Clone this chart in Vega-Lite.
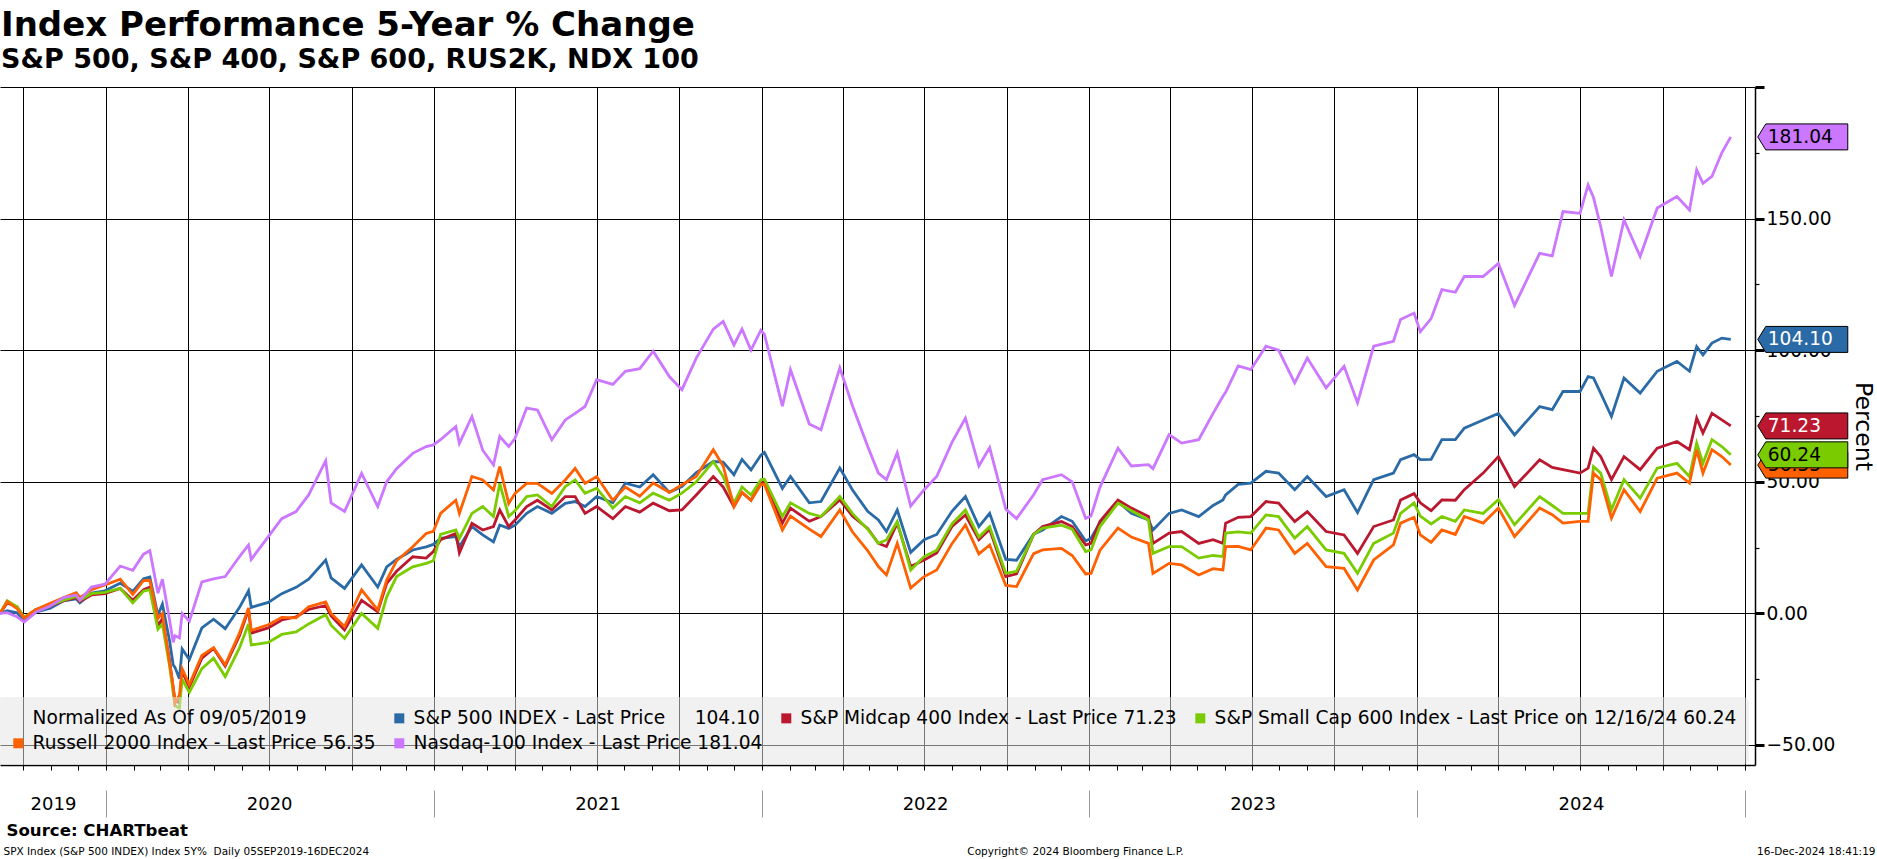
{
  "$schema": "https://vega.github.io/schema/vega-lite/v6.json",
  "width": 1755,
  "height": 678,
  "autosize": {"type": "none"},
  "padding": {"left": 0, "top": 87, "right": 122, "bottom": 94},
  "background": "white",
  "title": {
    "text": "Index Performance 5-Year % Change",
    "subtitle": "S&P 500, S&P 400, S&P 600, RUS2K, NDX 100",
    "anchor": "start",
    "frame": "group",
    "font": "DejaVu Sans",
    "fontSize": 34,
    "fontWeight": "bold",
    "color": "black",
    "subtitleFont": "DejaVu Sans",
    "subtitleFontSize": 27,
    "subtitleFontWeight": "bold",
    "subtitleColor": "black",
    "subtitlePadding": 4,
    "offset": 5,
    "dx": 1
  },
  "data": {
    "values": [
      {"date": "2019-09-05", "spx": 0, "mid": 0, "sml": 0, "rty": 0, "ndx": 0},
      {"date": "2019-09-13", "spx": 1.0, "mid": 4.0, "sml": 4.8, "rty": 4.5, "ndx": 0.3},
      {"date": "2019-09-24", "spx": 0.2, "mid": 2.5, "sml": 2.5, "rty": 1.8, "ndx": -1.3},
      {"date": "2019-10-02", "spx": -2.8, "mid": -1.5, "sml": -1.5, "rty": -1.8, "ndx": -3.3},
      {"date": "2019-10-15", "spx": 0.5, "mid": 1.5, "sml": 1.5, "rty": 1.5, "ndx": 0.5},
      {"date": "2019-10-31", "spx": 2.0, "mid": 2.8, "sml": 3.0, "rty": 3.8, "ndx": 2.8},
      {"date": "2019-11-15", "spx": 4.8, "mid": 4.8, "sml": 5.0, "rty": 6.0, "ndx": 6.0},
      {"date": "2019-11-29", "spx": 5.5, "mid": 6.0, "sml": 6.5, "rty": 7.9, "ndx": 7.0},
      {"date": "2019-12-03", "spx": 4.0, "mid": 4.5, "sml": 5.0, "rty": 6.0, "ndx": 5.0},
      {"date": "2019-12-16", "spx": 7.7, "mid": 7.0, "sml": 7.5, "rty": 9.0, "ndx": 10.0},
      {"date": "2019-12-31", "spx": 8.6, "mid": 7.5, "sml": 8.0, "rty": 10.8, "ndx": 11.1},
      {"date": "2020-01-17", "spx": 11.5, "mid": 9.5, "sml": 9.5, "rty": 13.0, "ndx": 18.0},
      {"date": "2020-01-31", "spx": 8.4, "mid": 5.0, "sml": 4.0, "rty": 7.2, "ndx": 16.4},
      {"date": "2020-02-12", "spx": 13.2, "mid": 9.0, "sml": 8.5, "rty": 12.5, "ndx": 22.5},
      {"date": "2020-02-19", "spx": 13.8, "mid": 10.0, "sml": 9.0, "rty": 12.5, "ndx": 23.8},
      {"date": "2020-02-28", "spx": -0.7, "mid": -4.7, "sml": -6.0, "rty": -1.9, "ndx": 7.7},
      {"date": "2020-03-04", "spx": 3.5, "mid": -2.0, "sml": -4.0, "rty": 0.0, "ndx": 13.0},
      {"date": "2020-03-12", "spx": -10.5, "mid": -18.0, "sml": -20.0, "rty": -19.0, "ndx": -2.5},
      {"date": "2020-03-16", "spx": -19.5, "mid": -28.0, "sml": -30.0, "rty": -28.0, "ndx": -11.0},
      {"date": "2020-03-18", "spx": -20.5, "mid": -33.0, "sml": -35.0, "rty": -34.2, "ndx": -8.5},
      {"date": "2020-03-23", "spx": -24.8, "mid": -34.0, "sml": -36.0, "rty": -31.0, "ndx": -9.3},
      {"date": "2020-03-26", "spx": -13.5, "mid": -22.0, "sml": -25.0, "rty": -21.0, "ndx": 0.0},
      {"date": "2020-04-03", "spx": -17.5, "mid": -28.0, "sml": -30.0, "rty": -27.0, "ndx": -3.0},
      {"date": "2020-04-17", "spx": -5.5, "mid": -17.0, "sml": -21.0, "rty": -16.0, "ndx": 12.0},
      {"date": "2020-04-30", "spx": -2.2, "mid": -13.3, "sml": -17.0, "rty": -13.0, "ndx": 13.1},
      {"date": "2020-05-13", "spx": -5.8, "mid": -20.0, "sml": -24.0, "rty": -19.5, "ndx": 14.0},
      {"date": "2020-05-29", "spx": 2.3, "mid": -8.4, "sml": -13.0, "rty": -7.4, "ndx": 21.6},
      {"date": "2020-06-08", "spx": 8.6, "mid": 1.5, "sml": -4.0, "rty": 2.1, "ndx": 26.0},
      {"date": "2020-06-11", "spx": 2.3, "mid": -7.5, "sml": -12.0, "rty": -6.5, "ndx": 20.5},
      {"date": "2020-06-30", "spx": 4.2, "mid": -5.5, "sml": -11.0, "rty": -4.3, "ndx": 29.2},
      {"date": "2020-07-15", "spx": 7.5, "mid": -2.5, "sml": -8.0, "rty": -1.5, "ndx": 36.0},
      {"date": "2020-07-31", "spx": 9.9, "mid": -1.3, "sml": -7.0, "rty": -1.7, "ndx": 38.7},
      {"date": "2020-08-14", "spx": 13.0, "mid": 1.5, "sml": -4.0, "rty": 2.5, "ndx": 45.0},
      {"date": "2020-09-02", "spx": 20.3, "mid": 3.0, "sml": -0.5, "rty": 4.4, "ndx": 58.0},
      {"date": "2020-09-08", "spx": 13.5, "mid": -1.0, "sml": -4.5, "rty": 0.0, "ndx": 42.0},
      {"date": "2020-09-23", "spx": 9.5, "mid": -6.3, "sml": -9.5, "rty": -5.0, "ndx": 38.7},
      {"date": "2020-10-12", "spx": 18.4, "mid": 5.0, "sml": 0.0, "rty": 8.9, "ndx": 53.2},
      {"date": "2020-10-30", "spx": 10.0, "mid": 0.6, "sml": -5.7, "rty": 1.3, "ndx": 40.6},
      {"date": "2020-11-09", "spx": 17.7, "mid": 11.4, "sml": 6.3, "rty": 12.7, "ndx": 50.0},
      {"date": "2020-11-20", "spx": 20.5, "mid": 16.0, "sml": 14.0, "rty": 20.0, "ndx": 55.0},
      {"date": "2020-12-08", "spx": 24.1, "mid": 21.5, "sml": 17.7, "rty": 25.3, "ndx": 60.8},
      {"date": "2020-12-23", "spx": 25.3, "mid": 21.0, "sml": 19.0, "rty": 30.4, "ndx": 63.4},
      {"date": "2020-12-31", "spx": 26.2, "mid": 23.5, "sml": 20.0, "rty": 31.2, "ndx": 64.0},
      {"date": "2021-01-08", "spx": 28.5, "mid": 28.0, "sml": 30.0, "rty": 38.0, "ndx": 66.0},
      {"date": "2021-01-25", "spx": 29.2, "mid": 30.4, "sml": 31.7, "rty": 43.0, "ndx": 71.0},
      {"date": "2021-01-29", "spx": 25.3, "mid": 23.0, "sml": 28.5, "rty": 38.0, "ndx": 64.6},
      {"date": "2021-02-12", "spx": 33.0, "mid": 34.2, "sml": 38.0, "rty": 52.0, "ndx": 74.8},
      {"date": "2021-02-24", "spx": 29.8, "mid": 31.7, "sml": 40.6, "rty": 50.7, "ndx": 62.0},
      {"date": "2021-03-08", "spx": 27.2, "mid": 33.0, "sml": 36.8, "rty": 46.9, "ndx": 56.4},
      {"date": "2021-03-15", "spx": 33.6, "mid": 39.3, "sml": 49.4, "rty": 55.8, "ndx": 67.2},
      {"date": "2021-03-25", "spx": 32.3, "mid": 33.0, "sml": 36.8, "rty": 41.8, "ndx": 63.4},
      {"date": "2021-04-01", "spx": 33.5, "mid": 35.5, "sml": 39.0, "rty": 45.6, "ndx": 66.5},
      {"date": "2021-04-14", "spx": 38.0, "mid": 40.6, "sml": 44.4, "rty": 49.4, "ndx": 78.0},
      {"date": "2021-04-26", "spx": 40.6, "mid": 43.0, "sml": 45.0, "rty": 49.4, "ndx": 77.3},
      {"date": "2021-05-12", "spx": 38.0, "mid": 39.3, "sml": 40.6, "rty": 45.6, "ndx": 66.0},
      {"date": "2021-05-27", "spx": 41.8, "mid": 44.4, "sml": 48.2, "rty": 50.7, "ndx": 73.5},
      {"date": "2021-06-07", "spx": 42.5, "mid": 44.4, "sml": 50.7, "rty": 55.1, "ndx": 76.0},
      {"date": "2021-06-18", "spx": 40.6, "mid": 38.0, "sml": 45.6, "rty": 49.4, "ndx": 78.6},
      {"date": "2021-07-01", "spx": 44.4, "mid": 40.6, "sml": 47.6, "rty": 52.0, "ndx": 88.8},
      {"date": "2021-07-19", "spx": 42.0, "mid": 36.0, "sml": 40.0, "rty": 43.0, "ndx": 87.0},
      {"date": "2021-08-02", "spx": 49.5, "mid": 40.6, "sml": 44.4, "rty": 48.0, "ndx": 92.0},
      {"date": "2021-08-18", "spx": 48.0, "mid": 38.5, "sml": 42.0, "rty": 44.5, "ndx": 93.0},
      {"date": "2021-09-02", "spx": 52.7, "mid": 41.9, "sml": 45.7, "rty": 49.5, "ndx": 99.6},
      {"date": "2021-09-20", "spx": 46.0, "mid": 39.0, "sml": 43.0, "rty": 46.0, "ndx": 90.0},
      {"date": "2021-10-04", "spx": 48.2, "mid": 39.3, "sml": 45.7, "rty": 48.9, "ndx": 85.0},
      {"date": "2021-10-20", "spx": 53.5, "mid": 45.0, "sml": 50.0, "rty": 52.0, "ndx": 97.0},
      {"date": "2021-11-08", "spx": 57.7, "mid": 52.0, "sml": 57.7, "rty": 62.2, "ndx": 108.0},
      {"date": "2021-11-19", "spx": 57.5, "mid": 48.0, "sml": 52.0, "rty": 56.0, "ndx": 110.9},
      {"date": "2021-12-01", "spx": 52.7, "mid": 40.6, "sml": 41.9, "rty": 40.6, "ndx": 102.0},
      {"date": "2021-12-10", "spx": 58.5, "mid": 46.0, "sml": 48.0, "rty": 46.0, "ndx": 108.0},
      {"date": "2021-12-20", "spx": 54.5, "mid": 43.0, "sml": 45.0, "rty": 43.0, "ndx": 100.0},
      {"date": "2021-12-31", "spx": 60.1, "mid": 49.5, "sml": 50.8, "rty": 48.9, "ndx": 107.6},
      {"date": "2022-01-04", "spx": 61.2, "mid": 50.0, "sml": 51.0, "rty": 49.0, "ndx": 106.0},
      {"date": "2022-01-24", "spx": 47.5, "mid": 34.3, "sml": 36.8, "rty": 31.7, "ndx": 78.7},
      {"date": "2022-02-02", "spx": 52.0, "mid": 40.0, "sml": 42.0, "rty": 37.0, "ndx": 92.6},
      {"date": "2022-02-23", "spx": 42.0, "mid": 35.0, "sml": 38.0, "rty": 32.0, "ndx": 72.0},
      {"date": "2022-03-08", "spx": 42.5, "mid": 36.8, "sml": 36.8, "rty": 29.2, "ndx": 69.8},
      {"date": "2022-03-29", "spx": 55.2, "mid": 43.1, "sml": 44.4, "rty": 39.3, "ndx": 93.3},
      {"date": "2022-04-12", "spx": 47.0, "mid": 37.0, "sml": 38.0, "rty": 31.0, "ndx": 79.0},
      {"date": "2022-04-29", "spx": 38.8, "mid": 32.3, "sml": 32.0, "rty": 23.9, "ndx": 63.5},
      {"date": "2022-05-11", "spx": 35.5, "mid": 26.6, "sml": 26.6, "rty": 17.8, "ndx": 53.3},
      {"date": "2022-05-20", "spx": 31.1, "mid": 25.4, "sml": 27.9, "rty": 14.6, "ndx": 50.8},
      {"date": "2022-06-01", "spx": 39.3, "mid": 34.3, "sml": 34.9, "rty": 26.6, "ndx": 61.0},
      {"date": "2022-06-16", "spx": 23.2, "mid": 17.8, "sml": 16.5, "rty": 9.6, "ndx": 40.8},
      {"date": "2022-07-01", "spx": 28.0, "mid": 20.3, "sml": 21.6, "rty": 14.0, "ndx": 47.0},
      {"date": "2022-07-15", "spx": 30.0, "mid": 23.0, "sml": 24.0, "rty": 16.5, "ndx": 52.0},
      {"date": "2022-08-01", "spx": 38.8, "mid": 33.0, "sml": 34.0, "rty": 26.5, "ndx": 65.0},
      {"date": "2022-08-16", "spx": 44.4, "mid": 37.4, "sml": 39.3, "rty": 33.6, "ndx": 74.2},
      {"date": "2022-08-31", "spx": 33.0, "mid": 28.0, "sml": 29.0, "rty": 22.6, "ndx": 56.0},
      {"date": "2022-09-12", "spx": 38.0, "mid": 32.0, "sml": 33.0, "rty": 26.0, "ndx": 63.0},
      {"date": "2022-09-30", "spx": 20.5, "mid": 14.0, "sml": 15.2, "rty": 10.6, "ndx": 39.6},
      {"date": "2022-10-12", "spx": 20.2, "mid": 15.0, "sml": 16.0, "rty": 10.2, "ndx": 36.0},
      {"date": "2022-10-31", "spx": 30.1, "mid": 30.0, "sml": 30.0, "rty": 22.7, "ndx": 45.1},
      {"date": "2022-11-10", "spx": 31.7, "mid": 33.0, "sml": 32.4, "rty": 24.1, "ndx": 50.8},
      {"date": "2022-12-01", "spx": 36.8, "mid": 34.9, "sml": 33.5, "rty": 24.7, "ndx": 52.7},
      {"date": "2022-12-13", "spx": 35.0, "mid": 33.0, "sml": 32.0, "rty": 22.0, "ndx": 50.0},
      {"date": "2022-12-28", "spx": 27.5, "mid": 26.0, "sml": 23.5, "rty": 15.0, "ndx": 36.1},
      {"date": "2023-01-03", "spx": 28.6, "mid": 26.6, "sml": 24.1, "rty": 15.2, "ndx": 37.0},
      {"date": "2023-01-13", "spx": 34.5, "mid": 35.0, "sml": 33.0, "rty": 24.0, "ndx": 48.0},
      {"date": "2023-02-02", "spx": 42.5, "mid": 43.1, "sml": 41.9, "rty": 32.4, "ndx": 62.8},
      {"date": "2023-02-17", "spx": 38.0, "mid": 40.0, "sml": 39.0, "rty": 29.0, "ndx": 56.0},
      {"date": "2023-03-08", "spx": 35.5, "mid": 36.8, "sml": 35.5, "rty": 26.6, "ndx": 56.5},
      {"date": "2023-03-13", "spx": 31.7, "mid": 26.6, "sml": 22.8, "rty": 15.2, "ndx": 55.0},
      {"date": "2023-03-31", "spx": 38.0, "mid": 30.5, "sml": 25.4, "rty": 19.0, "ndx": 67.9},
      {"date": "2023-04-14", "spx": 39.3, "mid": 31.1, "sml": 25.4, "rty": 18.4, "ndx": 64.7},
      {"date": "2023-05-03", "spx": 36.8, "mid": 26.6, "sml": 21.0, "rty": 14.6, "ndx": 66.0},
      {"date": "2023-05-19", "spx": 41.0, "mid": 28.0, "sml": 22.0, "rty": 17.0, "ndx": 76.0},
      {"date": "2023-05-30", "spx": 43.1, "mid": 26.6, "sml": 21.6, "rty": 16.5, "ndx": 82.5},
      {"date": "2023-06-02", "spx": 45.0, "mid": 34.3, "sml": 30.5, "rty": 25.4, "ndx": 84.0},
      {"date": "2023-06-16", "spx": 49.0, "mid": 36.5, "sml": 31.0, "rty": 25.5, "ndx": 94.0},
      {"date": "2023-06-30", "spx": 49.5, "mid": 36.8, "sml": 30.5, "rty": 24.1, "ndx": 92.6},
      {"date": "2023-07-17", "spx": 54.0, "mid": 42.5, "sml": 37.4, "rty": 32.4, "ndx": 101.5},
      {"date": "2023-07-31", "spx": 53.3, "mid": 41.9, "sml": 36.8, "rty": 31.7, "ndx": 100.0},
      {"date": "2023-08-18", "spx": 47.0, "mid": 34.9, "sml": 28.6, "rty": 22.8, "ndx": 87.6},
      {"date": "2023-09-01", "spx": 52.0, "mid": 38.7, "sml": 33.0, "rty": 26.6, "ndx": 97.0},
      {"date": "2023-09-22", "spx": 44.4, "mid": 31.1, "sml": 24.1, "rty": 17.8, "ndx": 85.7},
      {"date": "2023-10-12", "spx": 47.0, "mid": 29.8, "sml": 22.8, "rty": 17.1, "ndx": 93.9},
      {"date": "2023-10-27", "spx": 38.3, "mid": 22.8, "sml": 15.2, "rty": 8.9, "ndx": 80.0},
      {"date": "2023-11-14", "spx": 50.8, "mid": 33.0, "sml": 26.6, "rty": 20.3, "ndx": 101.5},
      {"date": "2023-12-06", "spx": 53.3, "mid": 35.5, "sml": 30.5, "rty": 26.0, "ndx": 103.4},
      {"date": "2023-12-14", "spx": 58.4, "mid": 43.1, "sml": 38.0, "rty": 34.3, "ndx": 111.7},
      {"date": "2023-12-29", "spx": 60.3, "mid": 45.5, "sml": 42.0, "rty": 36.5, "ndx": 114.1},
      {"date": "2024-01-05", "spx": 58.4, "mid": 42.0, "sml": 37.0, "rty": 29.8, "ndx": 107.0},
      {"date": "2024-01-17", "spx": 58.5, "mid": 39.0, "sml": 34.0, "rty": 27.0, "ndx": 112.0},
      {"date": "2024-01-29", "spx": 66.0, "mid": 43.1, "sml": 36.8, "rty": 31.7, "ndx": 123.0},
      {"date": "2024-02-13", "spx": 66.0, "mid": 43.0, "sml": 35.0, "rty": 30.0, "ndx": 122.0},
      {"date": "2024-02-23", "spx": 70.4, "mid": 47.0, "sml": 39.3, "rty": 36.8, "ndx": 128.0},
      {"date": "2024-03-15", "spx": 73.5, "mid": 53.3, "sml": 38.0, "rty": 34.3, "ndx": 128.0},
      {"date": "2024-04-01", "spx": 76.0, "mid": 59.6, "sml": 43.2, "rty": 40.0, "ndx": 133.0},
      {"date": "2024-04-19", "spx": 67.8, "mid": 48.2, "sml": 33.7, "rty": 29.2, "ndx": 117.0},
      {"date": "2024-05-17", "spx": 78.6, "mid": 58.4, "sml": 44.4, "rty": 40.0, "ndx": 136.8},
      {"date": "2024-05-31", "spx": 77.4, "mid": 55.5, "sml": 41.0, "rty": 37.5, "ndx": 135.8},
      {"date": "2024-06-12", "spx": 84.3, "mid": 54.6, "sml": 38.0, "rty": 34.3, "ndx": 152.7},
      {"date": "2024-07-01", "spx": 84.3, "mid": 53.3, "sml": 38.0, "rty": 35.0, "ndx": 152.0},
      {"date": "2024-07-10", "spx": 90.0, "mid": 55.2, "sml": 38.0, "rty": 35.0, "ndx": 162.8},
      {"date": "2024-07-16", "spx": 89.5, "mid": 62.8, "sml": 55.8, "rty": 53.3, "ndx": 158.0},
      {"date": "2024-07-24", "spx": 83.7, "mid": 59.6, "sml": 53.3, "rty": 50.8, "ndx": 147.0},
      {"date": "2024-08-05", "spx": 74.8, "mid": 50.8, "sml": 39.4, "rty": 36.2, "ndx": 128.0},
      {"date": "2024-08-19", "spx": 89.4, "mid": 59.6, "sml": 50.8, "rty": 47.0, "ndx": 149.5},
      {"date": "2024-09-06", "spx": 83.7, "mid": 54.6, "sml": 43.8, "rty": 38.7, "ndx": 135.6},
      {"date": "2024-09-25", "spx": 92.0, "mid": 62.8, "sml": 55.2, "rty": 51.4, "ndx": 154.0},
      {"date": "2024-10-17", "spx": 95.7, "mid": 65.3, "sml": 57.0, "rty": 53.3, "ndx": 158.4},
      {"date": "2024-10-31", "spx": 92.0, "mid": 62.2, "sml": 52.0, "rty": 49.5, "ndx": 153.3},
      {"date": "2024-11-08", "spx": 101.4, "mid": 74.2, "sml": 64.7, "rty": 62.2, "ndx": 168.5},
      {"date": "2024-11-15", "spx": 98.2, "mid": 68.5, "sml": 57.0, "rty": 53.3, "ndx": 163.4},
      {"date": "2024-11-25", "spx": 102.7, "mid": 76.0, "sml": 66.0, "rty": 62.2, "ndx": 166.0},
      {"date": "2024-12-06", "spx": 104.6, "mid": 73.5, "sml": 63.4, "rty": 59.6, "ndx": 175.0},
      {"date": "2024-12-16", "spx": 104.10, "mid": 71.23, "sml": 60.24, "rty": 56.35, "ndx": 181.04}
    ]
  },
  "transform": [{"fold": ["spx", "mid", "sml", "rty", "ndx"], "as": ["s", "v"]}],
  "encoding": {
    "y": {
      "field": "v",
      "type": "quantitative",
      "scale": {"domain": [-57.6, 200], "nice": false, "zero": false},
      "axis": {
        "orient": "right",
        "values": [-50, -25, 0, 25, 50, 75, 100, 125, 150, 175, 200],
        "labelExpr": "datum.value % 50 == 0 && datum.value != 200 ? format(datum.value, '.2f') : ''",
        "labelFont": "DejaVu Sans",
        "labelFontSize": 18.6,
        "labelColor": "black",
        "labelPadding": 2,
        "labelFlush": false,
        "labelOverlap": false,
        "labelBaseline": "middle",
        "ticks": true,
        "tickColor": "black",
        "tickSize": {"condition": {"test": "datum.value % 50 == 0", "value": 9}, "value": 4},
        "tickWidth": {"condition": {"test": "datum.value % 50 == 0", "value": 3}, "value": 1.2},
        "domain": true,
        "domainColor": "black",
        "domainWidth": 1.5,
        "grid": true,
        "gridColor": {"condition": {"test": "datum.value % 50 == 0", "value": "black"}, "value": "rgba(0,0,0,0)"},
        "gridWidth": 1,
        "title": "Percent",
        "titleFont": "DejaVu Sans",
        "titleFontSize": 23.6,
        "titleFontWeight": "normal",
        "titleColor": "black",
        "titleAngle": 90,
        "titleX": 107,
        "titleY": 339,
        "titleAlign": "center",
        "titleBaseline": "middle"
      }
    },
    "color": {
      "field": "s",
      "type": "nominal",
      "scale": {
        "domain": ["norm", "spx", "mid", "sml", "rty", "ndx"],
        "range": ["rgba(0,0,0,0)", "#2a6aa6", "#bb1830", "#7acc00", "#ff6000", "#cc77ff"]
      },
      "legend": {
        "orient": "none",
        "legendX": -3,
        "legendY": 610,
        "direction": "horizontal",
        "columns": 4,
        "gridAlign": "each",
        "title": null,
        "symbolType": "square",
        "symbolSize": 100,
        "symbolStrokeWidth": 0,
        "labelFont": "DejaVu Sans",
        "labelFontSize": 18.6,
        "labelColor": "black",
        "labelLimit": 1000,
        "labelOffset": 5,
        "columnPadding": 14,
        "rowPadding": 6,
        "padding": 12,
        "fillColor": "rgba(228,228,228,0.52)",
        "cornerRadius": 6,
        "labelExpr": "datum.value == 'norm' ? '\u00a0\u00a0\u00a0\u00a0\u00a0Normalized As Of 09/05/2019' : datum.value == 'spx' ? 'S&P 500 INDEX - Last Price\u00a0\u00a0\u00a0\u00a0\u00a0104.10' : datum.value == 'mid' ? 'S&P Midcap 400 Index - Last Price 71.23' : datum.value == 'sml' ? 'S&P Small Cap 600 Index - Last Price on 12/16/24 60.24' : datum.value == 'rty' ? 'Russell 2000 Index - Last Price 56.35' : 'Nasdaq-100 Index - Last Price 181.04'",
        "encode": {
          "symbols": {
            "update": {
              "fill": {"scale": "color", "field": "value"},
              "stroke": {"value": "transparent"},
              "strokeWidth": {"value": 0}
            }
          }
        }
      }
    }
  },
  "layer": [
    {
      "mark": {"type": "line", "strokeWidth": 2.8, "interpolate": "linear"},
      "encoding": {
        "x": {
          "field": "date",
          "type": "temporal",
          "scale": {"domain": [{"year": 2019, "month": 9, "date": 5}, {"year": 2025, "month": 1, "date": 12}], "nice": false},
          "axis": {
            "orient": "bottom",
            "tickCount": {"interval": "month", "step": 1},
            "labels": false,
            "ticks": true,
            "tickSize": 5,
            "tickColor": "black",
            "tickWidth": 1,
            "domain": true,
            "domainColor": "black",
            "domainWidth": 1.5,
            "grid": true,
            "gridColor": {"condition": {"test": "month(datum.value) % 3 == 0", "value": "black"}, "value": "rgba(0,0,0,0)"},
            "gridWidth": 1,
            "title": null
          }
        }
      }
    },
    {
      "transform": [{"filter": "utcyear(datum.date) == 2024 && utcmonth(datum.date) == 11 && utcdate(datum.date) == 16 && datum.s != 'sml'"}],
      "mark": {"type": "point", "shape": "M 0.225 0 L 0.2917 -0.1083 L 0.975 -0.1083 L 0.975 0.1083 L 0.2917 0.1083 Z", "size": 57600, "filled": true, "opacity": 1, "stroke": "black", "strokeWidth": 1},
      "encoding": {
        "x": {
          "field": "date",
          "type": "temporal",
          "scale": {"domain": [{"year": 2019, "month": 9, "date": 5}, {"year": 2025, "month": 1, "date": 12}], "nice": false},
          "axis": {
            "orient": "bottom",
            "offset": 25,
            "values": [{"year": 2020, "month": 1, "date": 1}, {"year": 2021, "month": 1, "date": 1}, {"year": 2022, "month": 1, "date": 1}, {"year": 2023, "month": 1, "date": 1}, {"year": 2024, "month": 1, "date": 1}, {"year": 2025, "month": 1, "date": 1}],
            "labels": false,
            "ticks": true,
            "tickSize": 27,
            "tickColor": "#999999",
            "tickWidth": 1,
            "domain": false,
            "grid": false,
            "title": "SPX Index (S&P 500 INDEX) Index 5Y%\u00a0 Daily 05SEP2019-16DEC2024",
            "titleFont": "DejaVu Sans",
            "titleFontSize": 10.5,
            "titleFontWeight": "normal",
            "titleColor": "black",
            "titleAnchor": "start",
            "titleAlign": "left",
            "titleBaseline": "middle",
            "titleX": 3,
            "titleY": 61
          }
        }
      }
    },
    {
      "transform": [{"filter": "utcyear(datum.date) == 2024 && utcmonth(datum.date) == 11 && utcdate(datum.date) == 16 && datum.s != 'sml'"}],
      "mark": {"type": "text", "dx": 37, "align": "left", "baseline": "middle", "font": "DejaVu Sans", "fontSize": 18.6},
      "encoding": {
        "x": {
          "field": "date",
          "type": "temporal",
          "scale": {"domain": [{"year": 2019, "month": 9, "date": 5}, {"year": 2025, "month": 1, "date": 12}], "nice": false},
          "axis": {
            "orient": "bottom",
            "offset": 25,
            "values": [{"year": 2019, "month": 11, "date": 3}, {"year": 2020, "month": 7, "date": 1}, {"year": 2021, "month": 7, "date": 2}, {"year": 2022, "month": 7, "date": 2}, {"year": 2023, "month": 7, "date": 2}, {"year": 2024, "month": 7, "date": 2}],
            "format": "%Y",
            "labels": true,
            "ticks": false,
            "tickSize": 0,
            "labelPadding": 14,
            "labelBaseline": "middle",
            "labelFont": "DejaVu Sans",
            "labelFontSize": 18,
            "labelColor": "black",
            "labelFlush": false,
            "labelOverlap": false,
            "domain": false,
            "grid": false,
            "title": "Source: CHARTbeat",
            "titleFont": "DejaVu Sans",
            "titleFontSize": 16.6,
            "titleFontWeight": "bold",
            "titleColor": "black",
            "titleAnchor": "start",
            "titleAlign": "left",
            "titleBaseline": "middle",
            "titleX": 6,
            "titleY": 40
          }
        },
        "text": {"field": "v", "type": "quantitative", "format": ".2f"},
        "color": {"condition": {"test": "datum.s == 'spx' || datum.s == 'mid'", "value": "white"}, "value": "black"}
      }
    },
    {
      "transform": [{"filter": "utcyear(datum.date) == 2024 && utcmonth(datum.date) == 11 && utcdate(datum.date) == 16 && datum.s == 'sml'"}],
      "mark": {"type": "point", "shape": "M 0.225 0 L 0.2917 -0.1083 L 0.975 -0.1083 L 0.975 0.1083 L 0.2917 0.1083 Z", "size": 57600, "filled": true, "opacity": 1, "stroke": "black", "strokeWidth": 1},
      "encoding": {
        "x": {
          "field": "date",
          "type": "temporal",
          "scale": {"domain": [{"year": 2019, "month": 9, "date": 5}, {"year": 2025, "month": 1, "date": 12}], "nice": false},
          "axis": {
            "orient": "bottom",
            "labels": false,
            "ticks": false,
            "domain": false,
            "grid": false,
            "title": "Copyright\u00a9 2024 Bloomberg Finance L.P.",
            "titleFont": "DejaVu Sans",
            "titleFontSize": 10.5,
            "titleFontWeight": "normal",
            "titleColor": "black",
            "titleAlign": "center",
            "titleBaseline": "middle",
            "titleX": 1075,
            "titleY": 86
          }
        }
      }
    },
    {
      "transform": [{"filter": "utcyear(datum.date) == 2024 && utcmonth(datum.date) == 11 && utcdate(datum.date) == 16 && datum.s == 'sml'"}],
      "mark": {"type": "text", "dx": 37, "align": "left", "baseline": "middle", "font": "DejaVu Sans", "fontSize": 18.6},
      "encoding": {
        "x": {
          "field": "date",
          "type": "temporal",
          "scale": {"domain": [{"year": 2019, "month": 9, "date": 5}, {"year": 2025, "month": 1, "date": 12}], "nice": false},
          "axis": {
            "orient": "bottom",
            "labels": false,
            "ticks": false,
            "domain": false,
            "grid": false,
            "title": "16-Dec-2024 18:41:19",
            "titleFont": "DejaVu Sans",
            "titleFontSize": 10.5,
            "titleFontWeight": "normal",
            "titleColor": "black",
            "titleAlign": "right",
            "titleBaseline": "middle",
            "titleX": 1875,
            "titleY": 86
          }
        },
        "text": {"field": "v", "type": "quantitative", "format": ".2f"},
        "color": {"value": "black"}
      }
    }
  ],
  "resolve": {"axis": {"x": "independent"}},
  "config": {
    "view": {"stroke": null},
    "font": "DejaVu Sans",
    "axis": {"labelFont": "DejaVu Sans", "titleFont": "DejaVu Sans"}
  }
}
